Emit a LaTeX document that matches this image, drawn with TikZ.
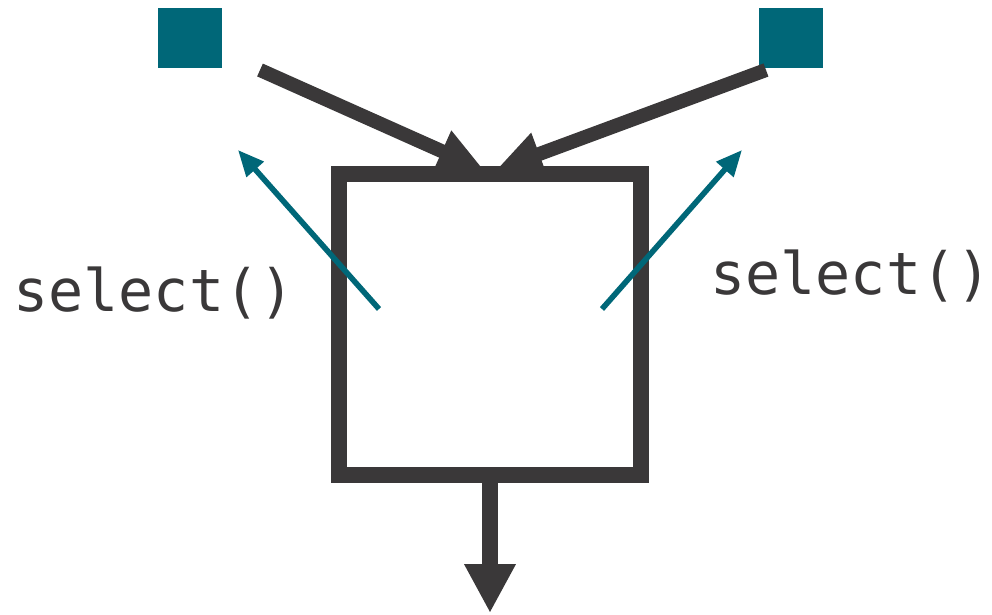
\documentclass[tikz,border=0pt]{standalone}
\usepackage{fontspec}
\setmonofont{DejaVu Sans Mono}
\definecolor{darkgrey}{RGB}{58, 56, 57}
\definecolor{teal1}{RGB}{0, 103, 120}
\usetikzlibrary{arrows.meta, positioning}

\begin{document}
\begin{tikzpicture}[
  x=0.025cm, y=-0.025cm,
  src/.style={fill=teal1, minimum width=1.6cm, minimum height=1.5cm, inner sep=0pt},
  feed/.style={-{Triangle[length=1.15cm, width=1.05cm]}, line width=0.35cm, darkgrey},
  call/.style={-{Triangle[length=0.65cm, width=0.55cm]}, line width=0.14cm, teal1},
  lbl/.style={font=\ttfamily\fontsize{41.5}{48}\selectfont, text=darkgrey, inner sep=0pt}
]
  \useasboundingbox (0, 0) rectangle (992, 614);

  % Sources
  \node[src] (srcL) at (190, 38) {};
  \node[src] (srcR) at (791, 38) {};

  % Main box
  \node[draw=darkgrey, line width=0.4cm, minimum width=7.55cm, minimum height=7.52cm, inner sep=0pt] (sel) at (490, 324.5) {};

  % Incoming arrows
  \coordinate (inL) at (260, 70);
  \coordinate (inR) at (766, 70);
  \coordinate (tipL) at (484, 170);
  \coordinate (tipR) at (496, 170);
  \draw[feed] (inL) -- (tipL);
  \draw[feed] (inR) -- (tipR);

  % select() calls
  \coordinate (cL) at (379, 309);
  \coordinate (cR) at (602, 309);
  \coordinate (eL) at (238, 150);
  \coordinate (eR) at (742, 150);
  \draw[call] (cL) -- (eL);
  \draw[call] (cR) -- (eR);
  \node[lbl] (lblL) at (154, 293) {select()};
  \node[lbl] (lblR) at (851, 276) {select()};

  % Output
  \coordinate (out) at (490, 613);
  \draw[-{Triangle[length=1.22cm, width=1.2cm]}, line width=0.42cm, darkgrey] (sel.south) -- (out);
\end{tikzpicture}
\end{document}
